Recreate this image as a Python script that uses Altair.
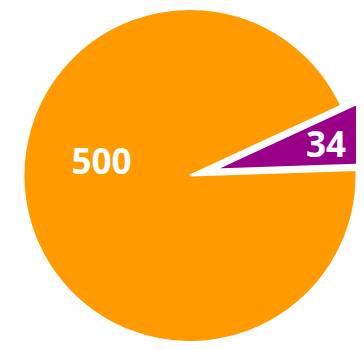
import math
import altair as alt
import pandas as pd

categories = ["A", "B"]
values = [500, 34]
colors = ["#FF9B00", "#990087"]
order = [0, 1]

df = pd.DataFrame({"category": categories, "value": values, "order": order})

start = math.radians(88.1)
tscale = alt.Scale(domain=[0, 1], range=[start, start + 2 * math.pi])
cscale = alt.Scale(domain=categories, range=colors)

base = (
    alt.Chart(df)
    .transform_joinaggregate(total="sum(value)")
    .transform_window(cum="sum(value)", sort=[alt.SortField("order")], frame=[None, 0])
    .transform_calculate(
        fe="datum.cum / datum.total",
        fs="(datum.cum - datum.value) / datum.total",
        fm="(datum.cum - datum.value / 2) / datum.total",
    )
)

cx = alt.value(182)
cy = alt.value(167.5)
R = 166.5

arc_enc = dict(
    theta=alt.Theta("fs:Q", scale=tscale),
    theta2="fe:Q",
    color=alt.Color("category:N", scale=cscale, legend=None),
    x=cx,
    y=cy,
)

orange = base.transform_filter("datum.order == 0").mark_arc(
    outerRadius=R, stroke="white", strokeWidth=2
).encode(**arc_enc)

purple = base.transform_filter("datum.order == 1").mark_arc(
    outerRadius=R, stroke="white", strokeWidth=2, xOffset=25, yOffset=-6
).encode(**arc_enc)

txt_common = dict(font="Open Sans", fontWeight="bold", fontSize=35, color="white",
                  align="center", baseline="middle")

orange_lbl = base.transform_filter("datum.order == 0").mark_text(
    radius=91, dy=-34, **txt_common
).encode(theta=alt.Theta("fm:Q", scale=tscale), text="value:Q", x=cx, y=cy)

purple_lbl = base.transform_filter("datum.order == 1").mark_text(
    radius=114, xOffset=25, yOffset=-6, dy=3, **txt_common
).encode(theta=alt.Theta("fm:Q", scale=tscale), text="value:Q", x=cx, y=cy)

chart = (
    alt.layer(orange, purple, orange_lbl, purple_lbl)
    .properties(width=348, height=333, padding=0, background="white",
                autosize=alt.AutoSizeParams(type="none"))
    .configure_view(stroke=None)
)

chart.save("out.html", embed_options={"renderer": "svg", "actions": False})
